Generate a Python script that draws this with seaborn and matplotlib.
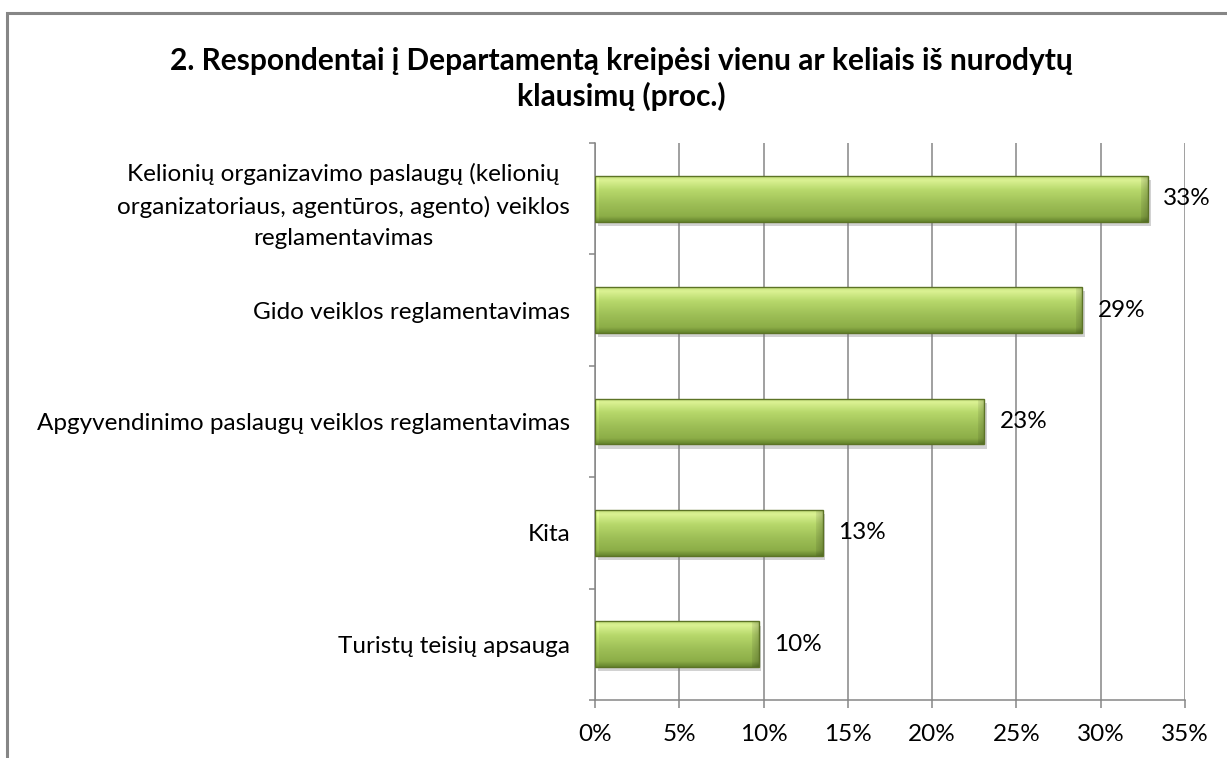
import numpy as np
import pandas as pd
import matplotlib
matplotlib.use("Agg")
import matplotlib.pyplot as plt
import matplotlib.patheffects as pe
from matplotlib.patches import Rectangle
from matplotlib.ticker import MultipleLocator, FixedLocator, PercentFormatter
import seaborn as sns

# ---- data ----
categories = [
    "Kelionių organizavimo paslaugų (kelionių\norganizatoriaus, agentūros, agento) veiklos\nreglamentavimas",
    "Gido veiklos reglamentavimas",
    "Apgyvendinimo paslaugų veiklos reglamentavimas",
    "Kita",
    "Turistų teisių apsauga",
]
values = [32.8, 28.9, 23.1, 13.5, 9.7]
value_labels = ["33%", "29%", "23%", "13%", "10%"]
title = "2. Respondentai į Departamentą kreipėsi vienu ar keliais iš nurodytų\nklausimų (proc.)"

sns.set_theme(style="white")
plt.rcParams["font.family"] = ["Lato", "DejaVu Sans"]

W, H = 1227, 758
fig = plt.figure(figsize=(W / 100, H / 100), dpi=100)
fig.patch.set_facecolor("white")

# outer chart border (top + left visible)
fig.add_artist(Rectangle((7 / W, -0.1), 1.2, 1 - 13 / H + 0.1, transform=fig.transFigure,
                         fill=False, edgecolor="#868686", lw=2.2))

left, right, top, bottom = 595, 1185, 143, 700
ax = fig.add_axes([left / W, 1 - bottom / H, (right - left) / W, (bottom - top) / H])

df = pd.DataFrame({"cat": categories, "val": values})
sns.barplot(data=df, y="cat", x="val", orient="h", width=0.41, color="#9bbb59",
            ax=ax, zorder=3, saturation=1)

ax.set_xlim(0, 35)
ax.set_ylim(4.5, -0.5)
ax.set_xlabel("")
ax.set_ylabel("")

FS = 17.5
grid_c = "#868686"
ax.xaxis.set_major_locator(MultipleLocator(5))
ax.xaxis.set_major_formatter(PercentFormatter(decimals=0))
ax.grid(axis="x", color=grid_c, lw=1.1, zorder=0)
ax.grid(axis="y", visible=False)
ax.set_axisbelow(True)
for s in ["top", "right"]:
    ax.spines[s].set_visible(False)
for s in ["left", "bottom"]:
    ax.spines[s].set_color(grid_c)
    ax.spines[s].set_linewidth(1.1)

ax.yaxis.set_minor_locator(FixedLocator(np.arange(-0.5, 5.0, 1.0)))
ax.tick_params(axis="y", which="major", length=0, pad=18, labelsize=FS, labelcolor="black")
ax.tick_params(axis="y", which="minor", length=4, width=1.1, color=grid_c, left=True)
ax.tick_params(axis="x", which="major", length=6, width=1.1, color=grid_c, bottom=True,
               direction="out", pad=11, labelsize=FS, labelcolor="black")
for lab in ax.get_yticklabels():
    lab.set_multialignment("center")
    lab.set_linespacing(1.6)

# bar styling: vertical gradient with bevel-like dark right end and shadow
stops = np.array([
    [0.00, 0.77, 0.88, 0.48],
    [0.08, 0.86, 0.95, 0.58],
    [0.30, 0.72, 0.85, 0.42],
    [0.60, 0.62, 0.75, 0.34],
    [0.88, 0.55, 0.68, 0.28],
    [1.00, 0.40, 0.52, 0.18],
])
ny = 60
t = np.linspace(0, 1, ny)
prof = np.stack([np.interp(t, stops[:, 0], stops[:, c]) for c in (1, 2, 3)], axis=1)

for p in list(ax.patches):
    x0, y0, w, h = p.get_x(), p.get_y(), p.get_width(), p.get_height()
    npx = max(int(w / 35 * 590), 2)
    img = np.repeat(prof[:, None, :], npx, axis=1).copy()
    bev = 7
    for i in range(bev):
        f = 0.80 + 0.02 * i
        img[:, npx - 1 - i, :] *= f
    for i in range(4):
        img[:, i, :] = np.clip(img[:, i, :] * 1.06, 0, 1)
    p.set_path_effects([pe.SimplePatchShadow(offset=(2, -3), shadow_rgbFace="#7f7f7f", alpha=0.35),
                        pe.Normal()])
    p.set_edgecolor("none")
    im = ax.imshow(img, extent=(x0, x0 + w, y0 + h, y0), origin="upper",
                   aspect="auto", zorder=4, interpolation="bilinear")
    im.set_clip_path(p)
    ax.add_patch(Rectangle((x0, y0), w, h, fill=False, edgecolor="#5c7326",
                           lw=1.0, zorder=5))

ax.set_xlim(0, 35)
ax.set_ylim(4.5, -0.5)

ax.bar_label(ax.containers[0], labels=value_labels, padding=11, fontsize=FS,
             color="black", zorder=6)

fig.text(621 / W, 1 - 79 / H, title, ha="center", va="center", fontsize=21.5,
         fontweight="bold", linespacing=1.25, color="black")

fig.savefig("out.png", dpi=100, facecolor="white")
